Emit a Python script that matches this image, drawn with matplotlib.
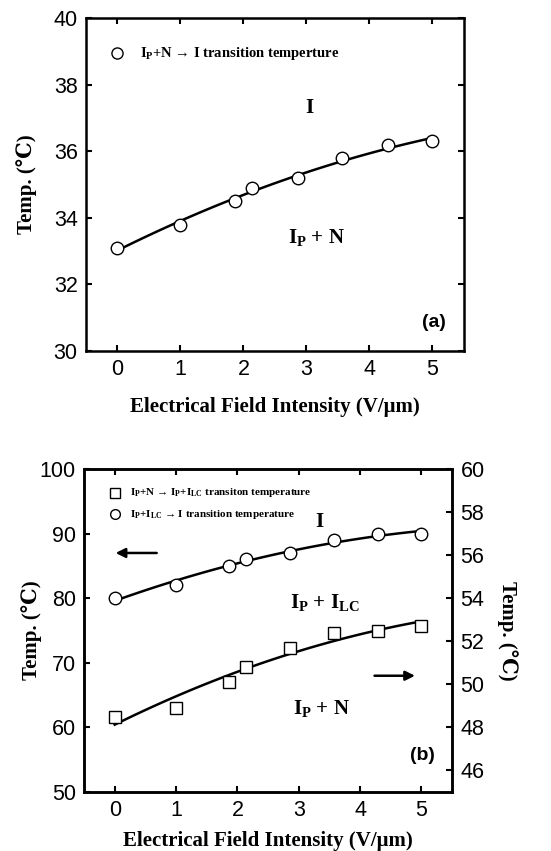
import matplotlib
matplotlib.use('Agg')
import matplotlib.pyplot as plt
import numpy as np

plt.rcParams['mathtext.fontset'] = 'custom'
plt.rcParams['mathtext.rm'] = 'Liberation Serif:bold'
plt.rcParams['mathtext.bf'] = 'Liberation Serif:bold'
plt.rcParams['mathtext.it'] = 'Liberation Serif:bold'

# field values (V/um)
field = [0, 1, 1.86, 2.14, 2.86, 3.57, 4.29, 5]
# (a) Ip+N -> I
temp_a = [33.1, 33.8, 34.5, 34.9, 35.2, 35.8, 36.2, 36.3]
# (b) Ip+ILC -> I (left axis), Ip+N -> Ip+ILC (right axis)
temp_b_iso = [80, 82, 85, 86, 87, 89, 90, 90]
temp_b_lc = [48.5, 48.9, 50.1, 50.8, 51.7, 52.4, 52.5, 52.7]

SERIF = ['Liberation Serif', 'DejaVu Serif']
SANS = ['Liberation Sans', 'DejaVu Sans']
TICK = 15.5
LABEL = 15


def style(ax, right=True):
    ax.tick_params(direction='in', length=4, width=1.5, labelsize=TICK,
                   top=True, right=right, pad=6)
    for lab in ax.get_xticklabels() + ax.get_yticklabels():
        lab.set_family(SANS)
    for s in ax.spines.values():
        s.set_linewidth(1.8)


def fit_line(ax, x, y, **kw):
    c = np.polyfit(x, y, 2)
    xs = np.linspace(min(x), max(x), 100)
    ax.plot(xs, np.polyval(c, xs), 'k-', lw=1.8, **kw)


def main():
    fig = plt.figure(figsize=(5.51, 8.51), dpi=100)

    # panel (a)
    ax = fig.add_axes([0.156, 0.5875, 0.686, 0.391])
    fit_line(ax, field, temp_a)
    ax.plot(field, temp_a, 'o', mfc='white', mec='k', ms=9, mew=1.0)
    ax.set_xlim(-0.5, 5.5)
    ax.set_ylim(30, 40)
    ax.set_xticks(range(6))
    ax.set_yticks(range(30, 41, 2))
    style(ax)
    ax.set_xlabel('Electrical Field Intensity (V/μm)', family=SERIF,
                  fontweight='bold', fontsize=LABEL, labelpad=12)
    ax.set_ylabel('Temp. (℃)', family=SERIF, fontweight='bold',
                  fontsize=LABEL, labelpad=12)
    ax.plot([0.0], [38.95], 'o', mfc='white', mec='k', ms=8, mew=1.0)
    ax.text(0.35, 38.95, r'I$_{\mathrm{P}}$+N → I transition temperture',
            family=SERIF, fontweight='bold', fontsize=10.5, va='center')
    ax.text(3.05, 37.3, 'I', family=SERIF, fontweight='bold', fontsize=15,
            ha='center', va='center')
    ax.text(3.16, 33.4, r'I$_{\mathrm{P}}$ + N', family=SERIF,
            fontweight='bold', fontsize=15, ha='center', va='center')
    ax.text(5.22, 30.85, '(a)', family=SANS, fontweight='bold', fontsize=14,
            ha='right', va='center')

    # panel (b)
    ax = fig.add_axes([0.1525, 0.0693, 0.668, 0.3796])
    ax2 = ax.twinx()
    fit_line(ax, field, temp_b_iso)
    ax.plot(field, temp_b_iso, 'o', mfc='white', mec='k', ms=9, mew=1.0)
    fit_line(ax2, field, temp_b_lc)
    ax2.plot(field, temp_b_lc, 's', mfc='white', mec='k', ms=8, mew=1.0)
    ax.set_xlim(-0.5, 5.5)
    ax.set_ylim(50, 100)
    ax.set_xticks(range(6))
    ax.set_yticks(range(50, 101, 10))
    ax2.set_ylim(45, 60)
    ax2.set_yticks(range(46, 61, 2))
    style(ax, right=False)
    ax2.tick_params(direction='in', length=4, width=1.5, labelsize=TICK, pad=6)
    for lab in ax2.get_yticklabels():
        lab.set_family(SANS)
    for s in ax2.spines.values():
        s.set_linewidth(1.8)
    ax.set_xlabel('Electrical Field Intensity (V/μm)', family=SERIF,
                  fontweight='bold', fontsize=LABEL, labelpad=7)
    ax.set_ylabel('Temp. (℃)', family=SERIF, fontweight='bold',
                  fontsize=LABEL, labelpad=-2)
    ax2.set_ylabel('Temp. (℃)', family=SERIF, fontweight='bold',
                   fontsize=LABEL, rotation=270, labelpad=24)

    ax.plot([0.0], [96.3], 's', mfc='white', mec='k', ms=6.5, mew=1.0)
    ax.text(0.25, 96.3,
            r'I$_{\mathrm{P}}$+N → I$_{\mathrm{P}}$+I$_{\mathrm{LC}}$ transiton temperature',
            family=SERIF, fontweight='bold', fontsize=8, va='center')
    ax.plot([0.0], [93.0], 'o', mfc='white', mec='k', ms=7, mew=1.0)
    ax.text(0.25, 93.0,
            r'I$_{\mathrm{P}}$+I$_{\mathrm{LC}}$ → I transition temperature',
            family=SERIF, fontweight='bold', fontsize=8, va='center')
    ax.text(3.33, 91.8, 'I', family=SERIF, fontweight='bold', fontsize=15,
            ha='center', va='center')
    ax.text(3.43, 79.3, r'I$_{\mathrm{P}}$ + I$_{\mathrm{LC}}$', family=SERIF,
            fontweight='bold', fontsize=15, ha='center', va='center')
    ax.text(3.37, 63, r'I$_{\mathrm{P}}$ + N', family=SERIF,
            fontweight='bold', fontsize=15, ha='center', va='center')
    ax.annotate('', xy=(-0.03, 87), xytext=(0.73, 87),
                arrowprops=dict(arrowstyle='-|>', color='k', lw=1.8,
                                mutation_scale=14))
    ax.annotate('', xy=(4.94, 68), xytext=(4.19, 68),
                arrowprops=dict(arrowstyle='-|>', color='k', lw=1.8,
                                mutation_scale=14))
    ax.text(5.22, 55.7, '(b)', family=SANS, fontweight='bold', fontsize=14,
            ha='right', va='center')

    fig.savefig('out.png', dpi=100)


if __name__ == '__main__':
    main()
